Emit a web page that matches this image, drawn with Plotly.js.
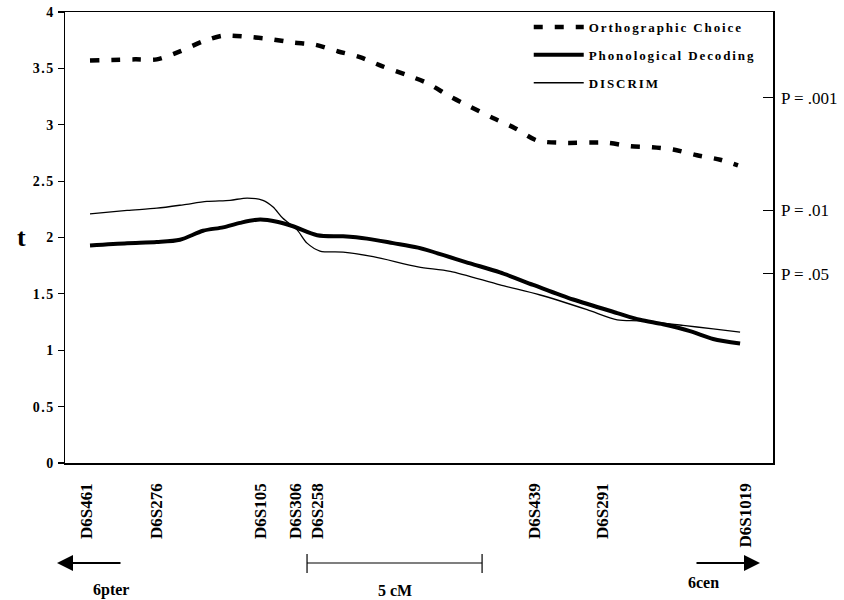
<!DOCTYPE html>
<html>
<head>
<meta charset="utf-8">
<script src="https://cdn.plot.ly/plotly-3.0.1.min.js"></script>
<style>
  html, body { margin: 0; padding: 0; background: #fff; }
  #chart { width: 844px; height: 600px; }
  .legendtext { letter-spacing: 1.9px; }
  .ytick text { letter-spacing: 1.5px; }
</style>
</head>
<body>
<div id="chart"></div>
<script>
// Marker positions (cM from D6S461) and labels
const markerPos = [-0.1, 1.91, 4.86, 5.86, 6.49, 12.71, 14.63, 18.71];
const markerLabels = ['D6S461', 'D6S276', 'D6S105', 'D6S306', 'D6S258', 'D6S439', 'D6S291', 'D6S1019'];

// Orthographic Choice (dashed)
const orthoX = [0, 1.29, 1.91, 2.57, 3.23, 3.8, 4.49, 5.14, 5.8, 6.43, 7.09, 7.71, 8.34, 9.06, 9.63, 10.29, 10.86, 11.51, 12.14, 12.77, 13.51, 14.77, 15.43, 16.06, 16.66, 17.34, 18.0, 18.51];
const orthoT = [3.57, 3.58, 3.58, 3.65, 3.74, 3.79, 3.78, 3.76, 3.73, 3.71, 3.65, 3.60, 3.52, 3.44, 3.37, 3.25, 3.16, 3.06, 2.97, 2.86, 2.84, 2.84, 2.81, 2.80, 2.78, 2.73, 2.69, 2.64];

// Phonological Decoding (thick)
const phonX = [0, 1.06, 1.91, 2.57, 3.23, 3.8, 4.29, 4.86, 5.34, 5.8, 6.49, 7.23, 7.91, 8.66, 9.37, 10.86, 11.71, 12.66, 13.8, 15.06, 15.71, 16.37, 17.14, 17.8, 18.57];
const phonT = [1.93, 1.95, 1.96, 1.98, 2.06, 2.09, 2.13, 2.16, 2.14, 2.10, 2.02, 2.01, 1.99, 1.95, 1.91, 1.77, 1.69, 1.58, 1.45, 1.33, 1.27, 1.23, 1.17, 1.10, 1.06];

// DISCRIM (thin)
const discX = [0, 1.06, 1.91, 2.66, 3.34, 4.0, 4.49, 4.94, 5.23, 5.51, 5.91, 6.2, 6.57, 7.23, 8.09, 9.37, 10.29, 11.71, 12.86, 14.2, 15.06, 15.71, 16.94, 17.8, 18.57];
const discT = [2.21, 2.24, 2.26, 2.29, 2.32, 2.33, 2.35, 2.33, 2.27, 2.17, 2.07, 1.95, 1.88, 1.87, 1.83, 1.74, 1.70, 1.58, 1.49, 1.36, 1.27, 1.26, 1.22, 1.19, 1.16];

// Significance thresholds on right axis
const pVals = [3.24, 2.24, 1.68];
const pLabels = ['P = .001', 'P = .01', 'P = .05'];

// Scale bar
const scaleStart = 6.2, scaleLen = 5;

const serif = '"Liberation Serif", "Times New Roman", serif';
const py = p => -(p - 463) / 451;   // pixel row below plot -> paper y
const px = p => (p - 65) / 708;     // pixel column -> paper x

const traces = [
  { x: orthoX, y: orthoT, name: 'Orthographic Choice', mode: 'lines', legendgroup: 'a',
    line: { color: '#000', width: 4.5, dash: '9px,12px', shape: 'spline', smoothing: 0.8 } },
  { x: phonX, y: phonT, name: 'Phonological Decoding', mode: 'lines', legendgroup: 'b',
    line: { color: '#000', width: 4, shape: 'spline', smoothing: 0.8 } },
  { x: discX, y: discT, name: 'DISCRIM', mode: 'lines', legendgroup: 'c',
    line: { color: '#000', width: 1.3, shape: 'spline', smoothing: 0.8 } },
  { x: [0], y: [0], yaxis: 'y2', mode: 'lines', showlegend: false, hoverinfo: 'skip',
    line: { color: 'rgba(0,0,0,0)', width: 0 } }
];

const boldFont = (s) => ({ family: serif, size: s, weight: 'bold', color: '#000' });

const layout = {
  width: 844, height: 600,
  margin: { l: 65, r: 71, t: 12, b: 137 },
  paper_bgcolor: '#fff', plot_bgcolor: '#fff',
  font: { family: serif, color: '#000' },
  showlegend: true,
  legend: {
    x: 0.655, y: 1.0, xanchor: 'left', yanchor: 'top',
    bgcolor: 'rgba(0,0,0,0)', borderwidth: 0,
    font: boldFont(13),
    tracegroupgap: 8, itemwidth: 50
  },
  xaxis: {
    range: [-0.714, 19.51],
    showgrid: false, zeroline: false,
    showline: true, linecolor: '#000', linewidth: 1.5, mirror: true,
    tickmode: 'array', tickvals: markerPos, ticktext: markerLabels,
    tickangle: -90, ticks: '', ticklabelstandoff: 12,
    tickfont: boldFont(17)
  },
  yaxis: {
    range: [0, 4],
    showgrid: false, zeroline: false,
    showline: true, linecolor: '#000', linewidth: 1.5,
    tickmode: 'array', tickvals: [0, 0.5, 1, 1.5, 2, 2.5, 3, 3.5, 4],
    ticktext: ['0', '0.5', '1', '1.5', '2', '2.5', '3', '3.5', '4'],
    ticks: 'outside', ticklen: 6, tickwidth: 1.2, tickcolor: '#000',
    tickfont: boldFont(14)
  },
  yaxis2: {
    range: [0, 4], overlaying: 'y', side: 'right',
    showgrid: false, zeroline: false,
    showline: true, linecolor: '#000', linewidth: 1.5,
    tickmode: 'array', tickvals: pVals, ticktext: pLabels,
    ticks: 'inside', ticklen: 10, tickwidth: 1.5, tickcolor: '#000',
    ticklabelstandoff: 3,
    tickfont: { family: serif, size: 17, color: '#000' }
  },
  shapes: [
    { type: 'line', xref: 'x', yref: 'paper', x0: scaleStart, x1: scaleStart + scaleLen,
      y0: py(563), y1: py(563), line: { color: '#000', width: 1.2 } },
    { type: 'line', xref: 'x', yref: 'paper', x0: scaleStart, x1: scaleStart,
      y0: py(554), y1: py(573), line: { color: '#000', width: 1.2 } },
    { type: 'line', xref: 'x', yref: 'paper', x0: scaleStart + scaleLen, x1: scaleStart + scaleLen,
      y0: py(554), y1: py(573), line: { color: '#000', width: 1.2 } }
  ],
  annotations: [
    { xref: 'paper', yref: 'paper', x: px(15), y: 2 / 4, showarrow: false, textangle: 0,
      text: 't', font: boldFont(26) },
    { xref: 'paper', yref: 'paper', x: px(57), y: py(563),
      ax: 65, ay: 0, axref: 'pixel', ayref: 'pixel', text: '', showarrow: true,
      arrowhead: 2, arrowsize: 1.6, arrowwidth: 2, arrowcolor: '#000' },
    { xref: 'paper', yref: 'paper', x: px(760), y: py(563),
      ax: -65, ay: 0, axref: 'pixel', ayref: 'pixel', text: '', showarrow: true,
      arrowhead: 2, arrowsize: 1.6, arrowwidth: 2, arrowcolor: '#000' },
    { xref: 'paper', yref: 'paper', x: px(92), y: py(600), yanchor: 'bottom', borderpad: 0, showarrow: false,
      text: '6pter', font: boldFont(16) },
    { xref: 'x', yref: 'paper', x: scaleStart + scaleLen / 2, y: py(600), yanchor: 'bottom', borderpad: 0, showarrow: false,
      text: '5 cM', font: boldFont(16) },
    { xref: 'paper', yref: 'paper', x: px(720), y: py(582), yanchor: 'middle', borderpad: 0, showarrow: false,
      text: '6cen', font: boldFont(16) }
  ]
};

Plotly.newPlot('chart', traces, layout, { displayModeBar: false, staticPlot: true });
</script>
</body>
</html>
